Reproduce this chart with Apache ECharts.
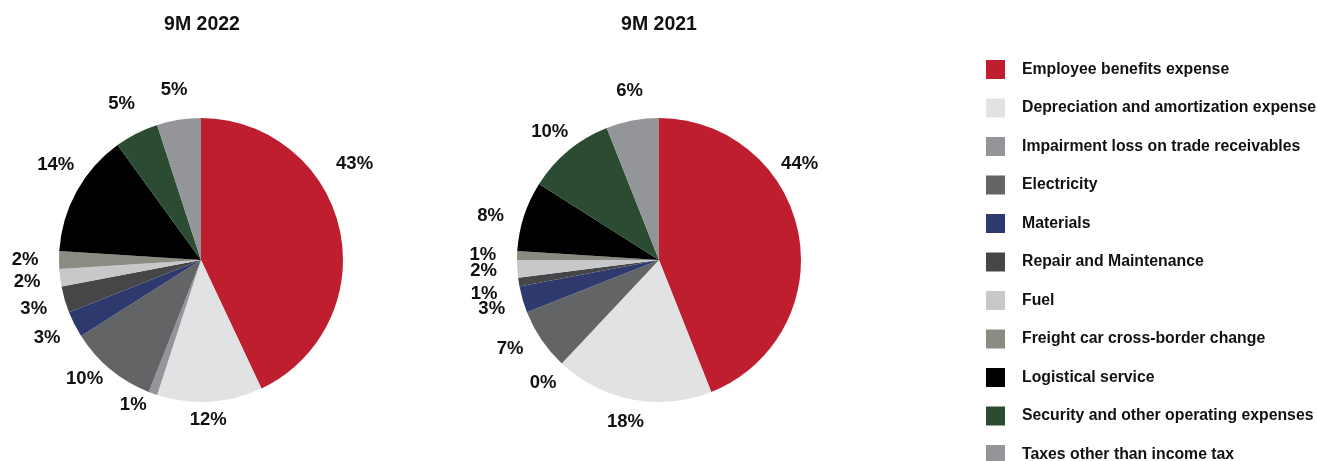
<!DOCTYPE html>
<html>
<head>
<meta charset="utf-8">
<script src="https://cdn.jsdelivr.net/npm/echarts@6/dist/echarts.min.js"></script>
<style>
  html, body { margin: 0; padding: 0; background: #ffffff; }
  #chart { width: 1317px; height: 461px; }
</style>
</head>
<body>
<div id="chart"></div>
<script>
// Operating expense categories (legend order, clockwise from 12 o'clock)
const categories = [
  'Employee benefits expense',
  'Depreciation and amortization expense',
  'Impairment loss on trade receivables',
  'Electricity',
  'Materials',
  'Repair and Maintenance',
  'Fuel',
  'Freight car cross-border change',
  'Logistical service',
  'Security and other operating expenses',
  'Taxes other than income tax'
];

// Share of total operating expenses, %
const share2022 = [43, 12, 1, 10, 3, 3, 2, 2, 14, 5, 5];
const share2021 = [44, 18, 0, 7, 3, 1, 2, 1, 8, 10, 6];

const periodTitles = ['9M 2022', '9M 2021'];

// Slice palette, one colour per category
const palette = [
  '#BF1E2E', '#E1E2E4', '#939598', '#636466', '#2E3A6E', '#464648',
  '#C7C8CA', '#8A8C82', '#000000', '#2B4C33', '#939598'
];

const FONT = '"Liberation Sans", Arial, Helvetica, sans-serif';
const RADIUS = 142;

// Hand-tuned label nudges (px) per slice index, layout only
const labelNudge2022 = { 0: [-19, -58], 1: [-3, -1], 2: [-12, -10], 3: [-9, -11], 8: [10, -10] };
const labelNudge2021 = { 0: [-33, -63], 1: [-3, 2], 3: [-7, -7], 5: [-2, 7], 8: [0, 11], 9: [3, 8], 10: [3, 1] };

// Labels start centred inside each slice; they are then pushed outward
// along the slice's mid-angle ray so they sit just beyond the rim.
function outwardLabels(center, nudge) {
  return function (p) {
    const r = p.labelRect;
    const x0 = r.x + r.width / 2;
    const y0 = r.y + r.height / 2;
    const vx = x0 - center[0];
    const vy = y0 - center[1];
    const len = Math.hypot(vx, vy) || 1;
    const ux = vx / len, uy = vy / len;
    const dist = RADIUS + 24 + 10 * Math.abs(ux) - 5 * uy;
    let dx = center[0] + ux * dist - x0;
    let dy = center[1] + uy * dist - y0;
    const n = nudge[p.dataIndex];
    if (n) { dx += n[0]; dy += n[1]; }
    return { dx: dx, dy: dy };
  };
}

function pieSeries(name, values, center, nudge) {
  return {
    name: name,
    type: 'pie',
    center: center,
    radius: RADIUS,
    startAngle: 90,
    clockwise: true,
    avoidLabelOverlap: false,
    silent: true,
    data: categories.map((c, i) => ({ name: c, value: values[i] })),
    label: {
      show: true,
      position: 'inside',
      formatter: '{c}%',
      fontFamily: FONT,
      fontWeight: 'bold',
      fontSize: 18.5,
      color: '#111111',
      textBorderWidth: 0
    },
    labelLine: { show: false },
    labelLayout: outwardLabels(center, nudge),
    itemStyle: { borderWidth: 0 }
  };
}

const chart = echarts.init(document.getElementById('chart'), null, { renderer: 'canvas' });

const titleText = { fontFamily: FONT, fontWeight: 'bold', fontSize: 19.5, color: '#111111' };

chart.setOption({
  animation: false,
  color: palette,
  title: [
    { text: periodTitles[0], left: 202, top: 15, textAlign: 'center', padding: 0, textStyle: titleText },
    { text: periodTitles[1], left: 659, top: 15, textAlign: 'center', padding: 0, textStyle: titleText }
  ],
  legend: {
    orient: 'vertical',
    left: 986,
    top: 60,
    height: 520,
    padding: 0,
    icon: 'rect',
    itemWidth: 19,
    itemHeight: 19,
    itemGap: 19.5,
    selectedMode: false,
    data: categories,
    textStyle: {
      fontFamily: FONT,
      fontWeight: 'bold',
      fontSize: 15.8,
      color: '#111111',
      lineHeight: 19,
      padding: [0, 0, 0, 12]
    }
  },
  series: [
    pieSeries(periodTitles[0], share2022, [201, 260], labelNudge2022),
    pieSeries(periodTitles[1], share2021, [659, 260], labelNudge2021)
  ]
});
</script>
</body>
</html>
